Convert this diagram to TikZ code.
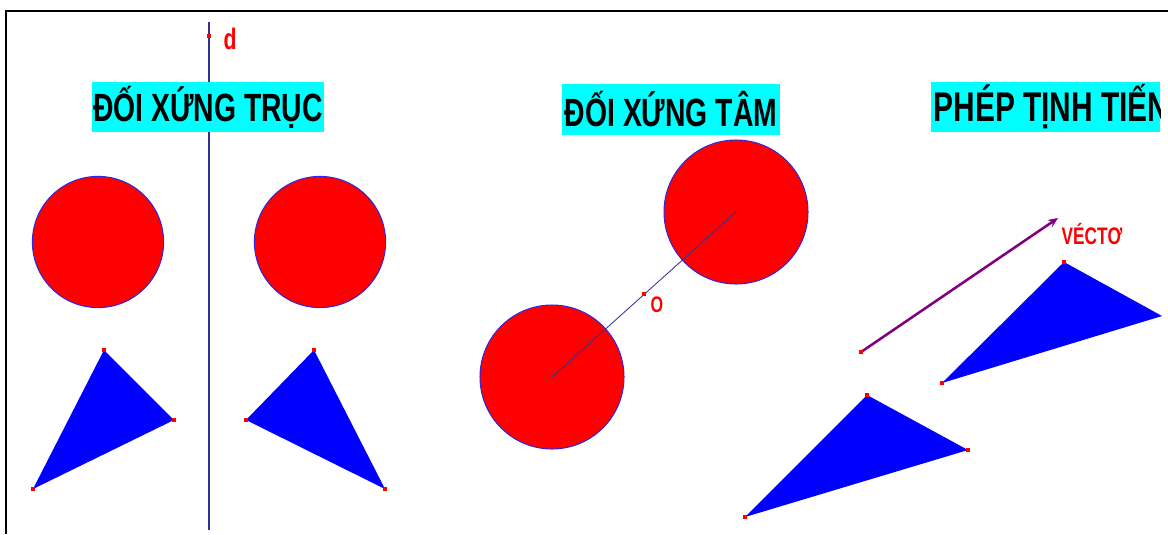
\documentclass[tikz,border=0pt]{standalone}
\usepackage{fontspec}
\setmainfont{Liberation Sans}
\newfontfamily\titlefont{Liberation Sans}[FakeStretch=0.72]
\usetikzlibrary{arrows.meta}
\definecolor{titlecyan}{RGB}{0,255,255}
\definecolor{discred}{RGB}{255,0,0}
\definecolor{edgeblue}{RGB}{40,40,230}
\definecolor{triblue}{RGB}{0,0,255}
\definecolor{axisblue}{RGB}{50,50,150}
\definecolor{vecpurple}{RGB}{128,0,128}

\begin{document}
\begin{tikzpicture}[x=0.025cm,y=-0.025cm,
    title/.style={fill=titlecyan,inner sep=1pt,minimum height=1.25cm,
                  font=\titlefont\bfseries\fontsize{28}{30}\selectfont},
    disc/.style={fill=discred,draw=edgeblue,line width=0.7pt},
    flag/.style={fill=triblue},
    dot/.style={fill=discred,inner sep=0pt,minimum size=0.1cm},
    lab/.style={text=discred,inner sep=0pt,font=\titlefont\bfseries},
    axis/.style={draw=axisblue,line width=1pt}
  ]
    \useasboundingbox (0,0) rectangle (1168,534);
    \draw[line width=2.1pt] (6,534) -- (6,11) -- (1168,11);
    % doi xung truc
    \coordinate (dtop) at (209,22);
    \coordinate (dbot) at (209,530);
    \draw[axis] (dtop) -- (dbot);
    \node[dot] (dp) at (209,36) {};
    \node[lab,font=\titlefont\bfseries\fontsize{21}{23}\selectfont] (dlab) at (230,39) {d};
    \node[title,minimum width=5.8cm] (t1) at (208,107) {ĐỐI XỨNG TRỤC};
    \draw[disc] (98,242) circle (1.64cm);
    \draw[disc] (320,242) circle (1.64cm);
    \coordinate (a1) at (104,350);
    \coordinate (b1) at (174,420);
    \coordinate (c1) at (33,489);
    \coordinate (a2) at (314,350);
    \coordinate (b2) at (246,420);
    \coordinate (c2) at (385,489);
    \fill[flag] (a1) -- (b1) -- (c1) -- cycle;
    \fill[flag] (a2) -- (b2) -- (c2) -- cycle;
    \foreach \p in {a1,b1,c1,a2,b2,c2}
      \node[dot] at (\p) {};
    % doi xung tam
    \node[title,minimum width=5.45cm] (t2) at (671,109.5) {ĐỐI XỨNG TÂM};
    \draw[disc] (736,212) circle (1.8cm);
    \draw[disc] (552,377) circle (1.8cm);
    \coordinate (o1) at (552,377);
    \coordinate (o2) at (736,212);
    \draw[draw=axisblue,line width=0.6pt] (o1) -- (o2);
    \node[dot] (o) at (644,294) {};
    \node[lab,font=\titlefont\bfseries\fontsize{16}{18}\selectfont] (olab) at (657,305) {O};
    % phep tinh tien
    \begin{scope}
      \clip (931,82) rectangle (1160,132);
      \fill[titlecyan] (931,82) rectangle (1160,132);
      \node[title,fill=none,anchor=west,font=\titlefont\bfseries\fontsize{29.5}{31}\selectfont]
        (t3) at (932,107) {PHÉP TỊNH TIẾN};
    \end{scope}
    \coordinate (u) at (861,352);
    \coordinate (v) at (1058,218);
    \draw[vecpurple,line width=1.8pt,-{Stealth[length=7pt,width=6pt]}] (u) -- (v);
    \node[dot] at (u) {};
    \node[lab,font=\titlefont\bfseries\fontsize{17}{19}\selectfont] (vlab) at (1092,234) {VÉCTƠ};
    \coordinate (a3) at (867,395);
    \coordinate (b3) at (968,450);
    \coordinate (c3) at (745,517);
    \coordinate (a4) at (1064,262);
    \coordinate (b4) at (1162,316);
    \coordinate (c4) at (942,383);
    \fill[flag] (a3) -- (b3) -- (c3) -- cycle;
    \fill[flag] (a4) -- (b4) -- (c4) -- cycle;
    \foreach \p in {a3,b3,c3,a4,c4}
      \node[dot] at (\p) {};
\end{tikzpicture}
\end{document}
